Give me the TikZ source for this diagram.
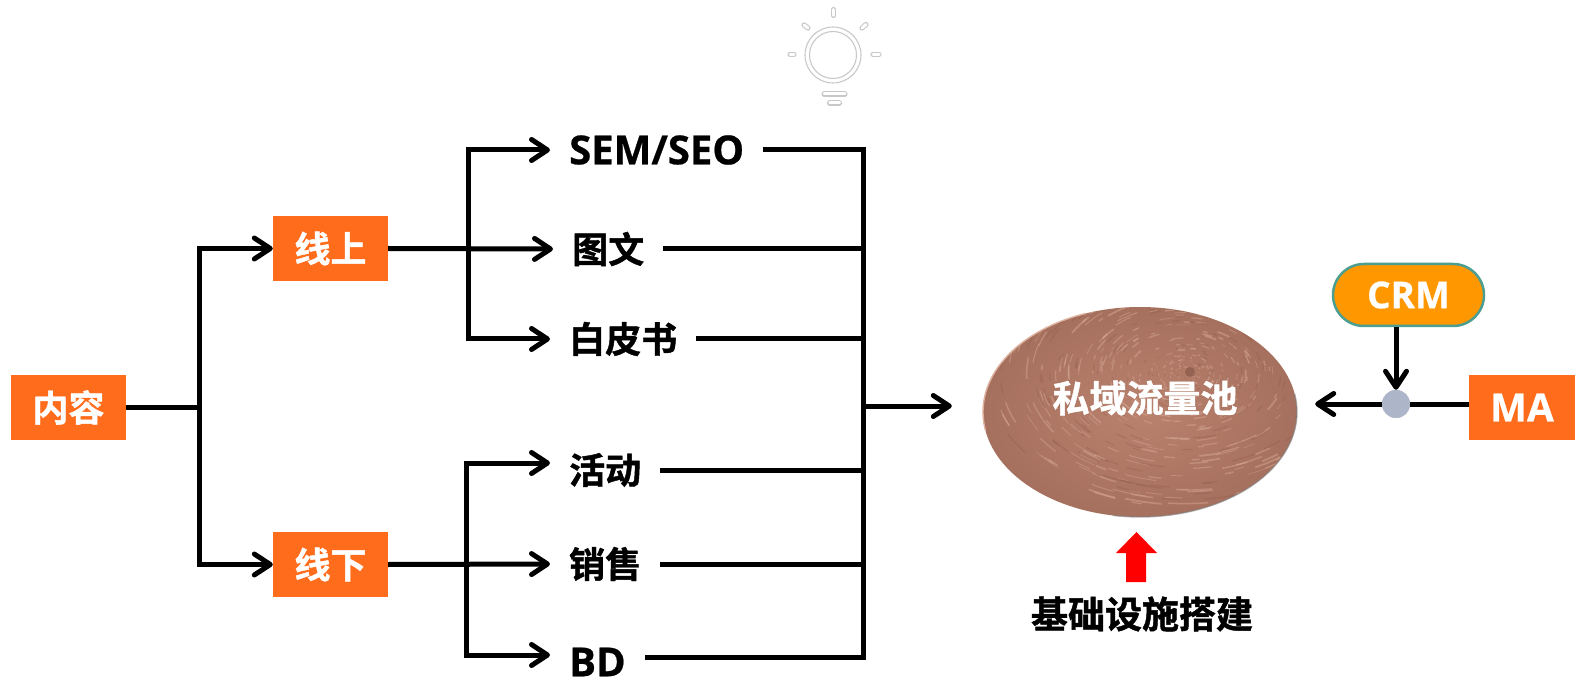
\documentclass[tikz,border=0pt]{standalone}
\usepackage{fontspec}
\newfontfamily\cjkfont{Noto Sans CJK SC Bold}[FakeBold=1.2]
\newfontfamily\latfont{Open Sans}[FakeBold=0.6]
\usetikzlibrary{arrows.meta,shapes.geometric,calc}

\definecolor{boxorange}{RGB}{255,108,28}
\definecolor{crmorange}{RGB}{255,152,0}
\definecolor{crmrim}{RGB}{76,158,145}
\definecolor{hubgray}{RGB}{173,181,200}
\definecolor{poolbase}{RGB}{166,112,94}
\definecolor{poolcore}{RGB}{184,130,110}
\definecolor{poolhi}{RGB}{222,178,158}
\definecolor{pooldark}{RGB}{132,82,66}
\definecolor{bulbgray}{RGB}{200,200,200}

\begin{document}
\begin{tikzpicture}[x=1pt,y=-1pt,
  cn/.style={font={\cjkfont\fontsize{36}{40}\selectfont}},
  cnbig/.style={font={\cjkfont\fontsize{37}{41}\selectfont}},
  ln/.style={font={\latfont\bfseries\fontsize{40}{44}\selectfont}},
  obox/.style={fill=boxorange, text=white, minimum height=65pt, inner sep=0pt},
  lbl/.style={anchor=west, inner xsep=19pt, inner ysep=0pt},
  wire/.style={line width=5pt},
  arr/.style={wire, -{Straight Barb[length=16pt,width=21pt,round]}},
  capsule/.style={bulbgray, line width=5.2pt, line cap=round,
    postaction={draw=white, line width=3pt, line cap=round}}
]
\useasboundingbox (0,0) rectangle (1587,684);

% light bulb icon
\draw[bulbgray, line width=1.1pt] (833,55) circle (28);
\draw[bulbgray, line width=1.1pt] (833,55) circle (23.5);
\draw[capsule] (833.5,9.5) -- (833.5,15.5);
\draw[capsule] (804,25) -- (808,28);
\draw[capsule] (862,28) -- (866,24.5);
\draw[capsule] (790,54.3) -- (794,54.3);
\draw[capsule] (873,54.3) -- (879,54.3);
\draw[capsule] (824,94) -- (845,94);
\draw[capsule] (829.5,103) -- (839.5,103);

% source boxes
\node[obox, cn, minimum width=115pt] (content) at (68.5,407.5) {内容};
\node[obox, cn, minimum width=115pt] (online) at (330.5,248.5) {线上};
\node[obox, cn, minimum width=115pt] (offline) at (330.5,564.5) {线下};

% channels
\node[lbl, ln] (sem) at (550,150) {SEM/SEO};
\node[lbl, cn] (tuwen) at (553,249) {图文};
\node[lbl, cn] (baipi) at (550,339) {白皮书};
\node[lbl, cn] (huodong) at (550,470) {活动};
\node[lbl, cn] (xiaoshou) at (550,564) {销售};
\node[lbl, ln] (bd) at (550,662) {BD};

% junctions
\coordinate (jA) at (199,407.5);
\coordinate (jU) at (468,247.5);
\coordinate (jL) at (466,563.5);
\coordinate (jR) at (863,406);

\draw[wire] (content.east) -- (jA);
\draw[arr] (jA) |- (online.west);
\draw[arr] (jA) |- (offline.west);

\draw[arr] (online.east) -- (tuwen.west);
\draw[arr] (jU) |- (sem.west);
\draw[arr] (jU) |- (baipi.west);

\draw[arr] (offline.east) -- (xiaoshou.west);
\draw[arr] (jL) |- ([yshift=7pt]huodong.west);
\draw[arr] (jL) |- ([yshift=7pt]bd.west);

\draw[wire] (sem.east) -| (jR);
\draw[wire] (tuwen.east) -| (jR);
\draw[wire] (baipi.east) -| (jR);
\draw[wire] (huodong.east) -| (jR);
\draw[wire] (xiaoshou.east) -| (jR);
\draw[wire] ([yshift=5pt]bd.east) -| (jR);

% traffic pool
\pgfmathsetseed{11}
\node[ellipse, minimum width=314pt, minimum height=210pt, inner sep=0pt,
  shade, inner color=poolcore, outer color=poolbase,
  path picture={
    \foreach \i in {1,...,520}{
      \pgfmathsetmacro\rr{0.04+1.3*rnd}
      \pgfmathsetmacro\aa{360*rnd}
      \pgfmathsetmacro\dd{3+9*rnd}
      \pgfmathsetmacro\ww{0.5+1.4*rnd}
      \draw[poolhi, line width=\ww pt, opacity=0.4]
        ([shift={(\aa:{150*\rr pt} and {100*\rr pt})}]$(path picture bounding box.center)+(45,-38)$)
        arc[start angle=\aa, delta angle=\dd, x radius=150*\rr pt, y radius=100*\rr pt];
    }
    \foreach \i in {1,...,200}{
      \pgfmathsetmacro\rr{0.04+1.3*rnd}
      \pgfmathsetmacro\aa{360*rnd}
      \pgfmathsetmacro\dd{3+8*rnd}
      \draw[pooldark, line width=1.2pt, opacity=0.25]
        ([shift={(\aa:{150*\rr pt} and {100*\rr pt})}]$(path picture bounding box.center)+(45,-38)$)
        arc[start angle=\aa, delta angle=\dd, x radius=150*\rr pt, y radius=100*\rr pt];
    }
    \fill[pooldark, opacity=0.6] ($(path picture bounding box.center)+(50,-40)$) circle (5);
  }] (pool) at (1140,412) {};
\draw[gray, line width=1.4pt, opacity=0.6]
  ([shift={(-100:157pt and 105pt)}]pool.center) arc[start angle=-100, end angle=10, x radius=157pt, y radius=105pt];
\draw[poolhi, line width=1.4pt]
  ([shift={(110:157pt and 105pt)}]pool.center) arc[start angle=110, end angle=190, x radius=157pt, y radius=105pt];
\node[cnbig, text=white] (poolname) at (1145,398) {私域流量池};

\draw[arr, shorten >=31pt] (jR) -- (jR -| pool.west);

% infrastructure
\fill[red] (1126,582) -- (1126,553) -- (1116,553) -- (1136.5,532) -- (1157,553) -- (1146,553) -- (1146,582) -- cycle;
\node[cnbig] (infra) at (1142,614) {基础设施搭建};

% CRM / MA
\node[fill=crmorange, draw=crmrim, line width=2.5pt, rounded corners=31pt,
  minimum width=151pt, minimum height=62pt, inner sep=0pt, text=white,
  font={\latfont\bfseries\fontsize{37}{41}\selectfont}] (crm) at (1408.5,295) {CRM};
\node[obox, minimum width=106pt, font={\latfont\bfseries\fontsize{39}{43}\selectfont}] (ma) at (1522,407.5) {MA};
\node[circle, fill=hubgray, minimum size=28pt, inner sep=0pt] (hub) at (1396,404) {};

\draw[wire] (hub) -- (hub -| ma.west);
\draw[arr] (crm.south -| hub) -- (hub.north);
\draw[arr, shorten >=18pt] (hub.west) -- (hub.west -| pool.east);
\fill[hubgray] (hub) circle (14);
\end{tikzpicture}
\end{document}
